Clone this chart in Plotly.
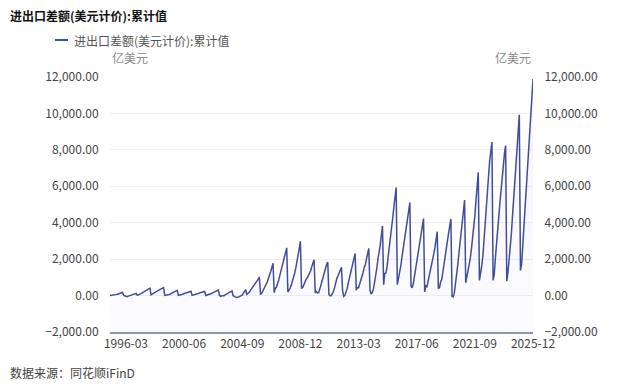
import plotly.graph_objects as go

# ---- data (亿美元), monthly cumulative values, 1995-01 .. 2025-12 ----
years = list(range(1995, 2026))
cum_by_year = {
    1995: [5, 10, 15, 25, 35, 50, 65, 85, 100, 120, 140, 167],
    1996: [10, -20, -40, -60, -30, 0, 30, 50, 60, 80, 100, 122],
    1997: [10, 30, 60, 90, 130, 175, 220, 260, 300, 335, 370, 404],
    1998: [40, 70, 110, 150, 190, 230, 270, 305, 340, 375, 405, 435],
    1999: [10, 15, 25, 35, 60, 95, 135, 165, 195, 225, 255, 292],
    2000: [15, 20, 40, 60, 90, 110, 140, 160, 180, 200, 220, 241],
    2001: [10, 25, 40, 60, 80, 100, 130, 160, 180, 195, 210, 226],
    2002: [5, 20, 40, 60, 85, 115, 145, 180, 215, 245, 275, 304],
    2003: [10, -40, -10, -30, -15, 45, 65, 110, 150, 185, 225, 255],
    2004: [-8, -50, -84, -110, -100, -68, -50, -8, 20, 135, 225, 320],
    2005: [65, 110, 165, 270, 360, 400, 505, 605, 680, 800, 900, 1020],
    2006: [80, 115, 230, 335, 465, 615, 760, 950, 1100, 1340, 1560, 1775],
    2007: [160, 395, 465, 630, 855, 1125, 1385, 1635, 1875, 2155, 2380, 2622],
    2008: [195, 280, 415, 580, 780, 990, 1240, 1530, 1825, 2180, 2585, 2981],
    2009: [390, 440, 625, 760, 890, 970, 1075, 1235, 1360, 1600, 1790, 1961],
    2010: [142, 218, 146, 162, 356, 554, 841, 1041, 1210, 1483, 1712, 1831],
    2011: [65, -8, -10, 105, 235, 450, 765, 945, 1090, 1260, 1405, 1551],
    2012: [273, -42, 11, 195, 380, 695, 946, 1212, 1488, 1808, 2004, 2311],
    2013: [292, 444, 435, 616, 820, 1092, 1270, 1558, 1711, 2023, 2361, 2592],
    2014: [318, 89, 167, 351, 710, 1027, 1500, 1998, 2307, 2761, 3306, 3825],
    2015: [600, 1206, 1237, 1575, 2170, 2634, 3064, 3667, 4271, 4888, 5428, 5939],
    2016: [600, 900, 1180, 1610, 2080, 2540, 3030, 3520, 3910, 4370, 4750, 5107],
    2017: [513, 422, 645, 1025, 1433, 1859, 2327, 2747, 3032, 3413, 3810, 4225],
    2018: [203, 537, 486, 773, 1022, 1438, 1704, 1984, 2301, 2641, 3089, 3509],
    2019: [391, 432, 758, 896, 1312, 1822, 2272, 2620, 3017, 3445, 3832, 4210],
    2020: [-35, -70, 130, 580, 1210, 1675, 2299, 2888, 3257, 3841, 4594, 5240],
    2021: [700, 1032, 1166, 1593, 2048, 2564, 3126, 3709, 4376, 5220, 5938, 6764],
    2022: [830, 1157, 1630, 2140, 2925, 3900, 4910, 5700, 6550, 7400, 7920, 8430],
    2023: [830, 1169, 2050, 2950, 3610, 4300, 5108, 5790, 6564, 7130, 7820, 8232],
    2024: [790, 1251, 1836, 2554, 3380, 4350, 5200, 6113, 6930, 7855, 8829, 9922],
    2025: [1380, 1705, 2731, 3692, 4724, 5860, 6842, 7868, 8775, 9676, 10758, 11890],
}

categories = [f"{y}-{m:02d}" for y in years for m in range(1, 13)]
values = [v for y in years for v in cum_by_year[y]]

y_ticks = [-2000, 0, 2000, 4000, 6000, 8000, 10000, 12000]
tick_labels_x = categories[14::51]

series_name = "进出口差额(美元计价):累计值"
LINE = "rgb(66,76,156)"
FONT = "Noto Sans CJK SC"
Y_MIN, Y_MAX = -2000, 12000

# figure geometry (page body has an 8px margin)
W, H = 632, 383
L, T, R, B = 102, 69, 107, 59
PW, PH = W - L - R, H - T - B


def px(xp):
    return (xp - L) / PW


def py(yp):
    return 1 - (yp - T) / PH


fig = go.Figure()
fig.add_trace(go.Scatter(x=categories, y=[Y_MIN] * len(categories), mode="lines",
                         line=dict(width=0), hoverinfo="skip", showlegend=False))
fig.add_trace(go.Scatter(
    x=categories, y=values, mode="lines", name=series_name,
    line=dict(color=LINE, width=1.5),
    fill="tonexty",
    fillgradient=dict(type="vertical",
                      colorscale=[[0, "rgba(90,100,190,0.02)"], [1, "rgba(90,100,190,0.07)"]]),
    showlegend=False,
))
fig.add_trace(go.Scatter(x=categories, y=values, yaxis="y2", mode="lines",
                         line=dict(width=0, color="rgba(0,0,0,0)"),
                         hoverinfo="skip", showlegend=False))

tickfont = dict(family=FONT, size=12, color="#444")
yaxis_common = dict(
    range=[Y_MIN, Y_MAX], tickvals=y_ticks, tickformat=",.2f",
    tickfont=tickfont, ticks="outside", ticklen=8, tickcolor="rgba(0,0,0,0)",
    zeroline=False, showline=False,
)

fig.update_layout(
    width=W, height=H,
    margin=dict(l=L, r=R, t=T, b=B),
    paper_bgcolor="white", plot_bgcolor="white",
    font=dict(family=FONT, size=12, color="#444"),
    showlegend=False,
    xaxis=dict(
        type="category", range=[0, len(categories) - 1],
        tickvals=tick_labels_x, ticktext=tick_labels_x,
        tickfont=tickfont, ticks="", showgrid=False,
        showline=True, linecolor="#8e94b8", linewidth=1.5,
        tickangle=0,
    ),
    yaxis=dict(**yaxis_common, showgrid=True, gridcolor="#eceef6", gridwidth=1),
    yaxis2=dict(**yaxis_common, overlaying="y", side="right", showgrid=False),
    annotations=[
        dict(text="<b>" + series_name + "</b>", xref="paper", yref="paper",
             x=px(0), y=py(8), xanchor="left", yanchor="middle",
             showarrow=False, font=dict(family=FONT, size=12, color="#111")),
        dict(text=series_name, xref="paper", yref="paper",
             x=px(64), y=py(32), xanchor="left", yanchor="middle",
             showarrow=False, font=dict(family=FONT, size=12, color="#555")),
        dict(text="亿美元", xref="paper", yref="paper",
             x=0, y=py(49), xanchor="left", yanchor="middle",
             showarrow=False, font=dict(family=FONT, size=12, color="#8a8a8a")),
        dict(text="亿美元", xref="paper", yref="paper",
             x=1, y=py(49), xanchor="right", yanchor="middle",
             showarrow=False, font=dict(family=FONT, size=12, color="#8a8a8a")),
        dict(text="数据来源：同花顺iFinD", xref="paper", yref="paper",
             x=px(0), y=py(364), xanchor="left", yanchor="middle",
             showarrow=False, font=dict(family=FONT, size=12, color="#444")),
    ],
    shapes=[
        dict(type="line", xref="paper", yref="paper",
             x0=px(47), x1=px(60), y0=py(32), y1=py(32),
             line=dict(color=LINE, width=2)),
    ],
)

fig.write_html("out.html")
